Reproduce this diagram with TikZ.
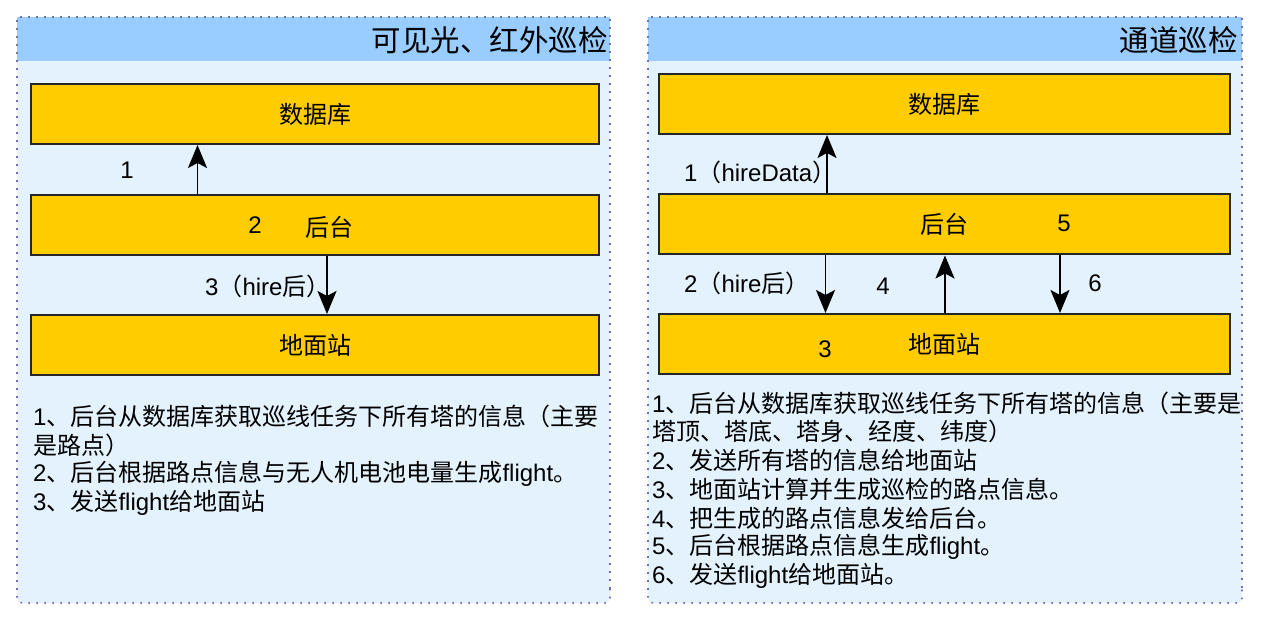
\documentclass[tikz,border=0pt]{standalone}
\usepackage{fontspec}
\setmainfont{Noto Sans CJK SC}
\newfontfamily\enf{Liberation Sans}
\newcommand\en[1]{{\enf #1}}
\usetikzlibrary{arrows.meta}
\definecolor{hdr}{HTML}{99CCFF}
\definecolor{bodyc}{HTML}{E3F2FD}
\definecolor{boxc}{HTML}{FFCC00}
\definecolor{dotc}{RGB}{110,110,180}
\begin{document}
\begin{tikzpicture}[x=1pt,y=-1pt,
  every node/.style={inner sep=0pt},
  panel/.style={fill=bodyc, rounded corners=5pt},
  border/.style={draw=dotc, line width=1.6pt, dash pattern=on 1.6pt off 6.4pt},
  blk/.style={draw=black!85, line width=2pt, fill=boxc, minimum width=568pt, minimum height=60pt, font=\fontsize{24}{29}\selectfont},
  lbl/.style={font=\fontsize{24}{29}\selectfont},
  ttl/.style={font=\fontsize{29.5}{34}\selectfont, anchor=east},
  arr/.style={-{Stealth[length=23pt,width=19pt,inset=5pt]}, line width=1.7pt},
  txt/.style={anchor=west, font=\fontsize{24}{29}\selectfont}]
\useasboundingbox (0,0) rectangle (1262,620);
\fill[white] (0,0) rectangle (1262,620);

% ---------- left panel ----------
\path[panel] (17,17) rectangle (610,603);
\fill[hdr] (17,17) rectangle (610,61);
\draw[border] (17,590) -- (17,17) -- (610,17) -- (610,590);
\draw[border, rounded corners=5pt] (17,588) -- (17,603) -- (610,603) -- (610,588);
\node[ttl] (lt) at (608,40) {可见光、红外巡检};

\node[blk] (ldb) at (315,114) {数据库};
\node[blk] (lbk) at (315,225) {};
\node[blk] (lgs) at (315,345) {地面站};
\node[lbl] (lbkt) at (329,227) {后台};
\node[lbl] (l2) at (255,225) {\en{2}};

\coordinate (la1) at (197.5,0);
\coordinate (la3) at (327,0);
\draw[arr] (lbk.north -| la1) -- (ldb.south -| la1);
\draw[arr] (lbk.south -| la3) -- (lgs.north -| la3);
\node[lbl] (l1) at (127,170) {\en{1}};
\node[lbl, anchor=west] (l3) at (205,286) {\en{3}（\en{hire}后）};

\node[txt] (lt1) at (33,416) {\en{1}、后台从数据库获取巡线任务下所有塔的信息（主要};
\node[txt] (lt2) at (33,445) {是路点）};
\node[txt] (lt3) at (33,474) {\en{2}、后台根据路点信息与无人机电池电量生成\en{flight}。};
\node[txt] (lt4) at (33,503) {\en{3}、发送\en{flight}给地面站};

% ---------- right panel ----------
\path[panel] (648,17) rectangle (1242,603);
\fill[hdr] (648,17) rectangle (1242,61);
\draw[border] (648,590) -- (648,17) -- (1242,17) -- (1242,590);
\draw[border, rounded corners=5pt] (648,588) -- (648,603) -- (1242,603) -- (1242,588);
\node[ttl] (rt) at (1238,40) {通道巡检};

\node[blk, minimum width=571pt] (rdb) at (944.5,104) {数据库};
\node[blk, minimum width=571pt] (rbk) at (944.5,224.5) {后台};
\node[blk, minimum width=571pt] (rgs) at (944.5,344) {地面站};
\node[lbl] (r5) at (1064,223) {\en{5}};
\node[lbl] (r3) at (825,349) {\en{3}};

\coordinate (ra1) at (827,0);
\coordinate (ra2) at (825.5,0);
\coordinate (ra4) at (945,0);
\coordinate (ra6) at (1060,0);
\draw[arr] (rbk.north -| ra1) -- (rdb.south -| ra1);
\draw[arr] (rbk.south -| ra2) -- (rgs.north -| ra2);
\draw[arr] (rgs.north -| ra4) -- (rbk.south -| ra4);
\draw[arr] (rbk.south -| ra6) -- (rgs.north -| ra6);
\node[lbl, anchor=west] (r1) at (684,172) {\en{1}（\en{hireData}）};
\node[lbl, anchor=west] (r2) at (684,283) {\en{2}（\en{hire}后）};
\node[lbl] (r4) at (883,286) {\en{4}};
\node[lbl] (r6) at (1095,283) {\en{6}};

\node[txt] (rt1) at (652,403) {\en{1}、后台从数据库获取巡线任务下所有塔的信息（主要是};
\node[txt] (rt2) at (652,431.5) {塔顶、塔底、塔身、经度、纬度）};
\node[txt] (rt3) at (652,460) {\en{2}、发送所有塔的信息给地面站};
\node[txt] (rt4) at (652,489) {\en{3}、地面站计算并生成巡检的路点信息。};
\node[txt] (rt5) at (652,518) {\en{4}、把生成的路点信息发给后台。};
\node[txt] (rt6) at (652,547) {\en{5}、后台根据路点信息生成\en{flight}。};
\node[txt] (rt7) at (652,576) {\en{6}、发送\en{flight}给地面站。};
\end{tikzpicture}
\end{document}
